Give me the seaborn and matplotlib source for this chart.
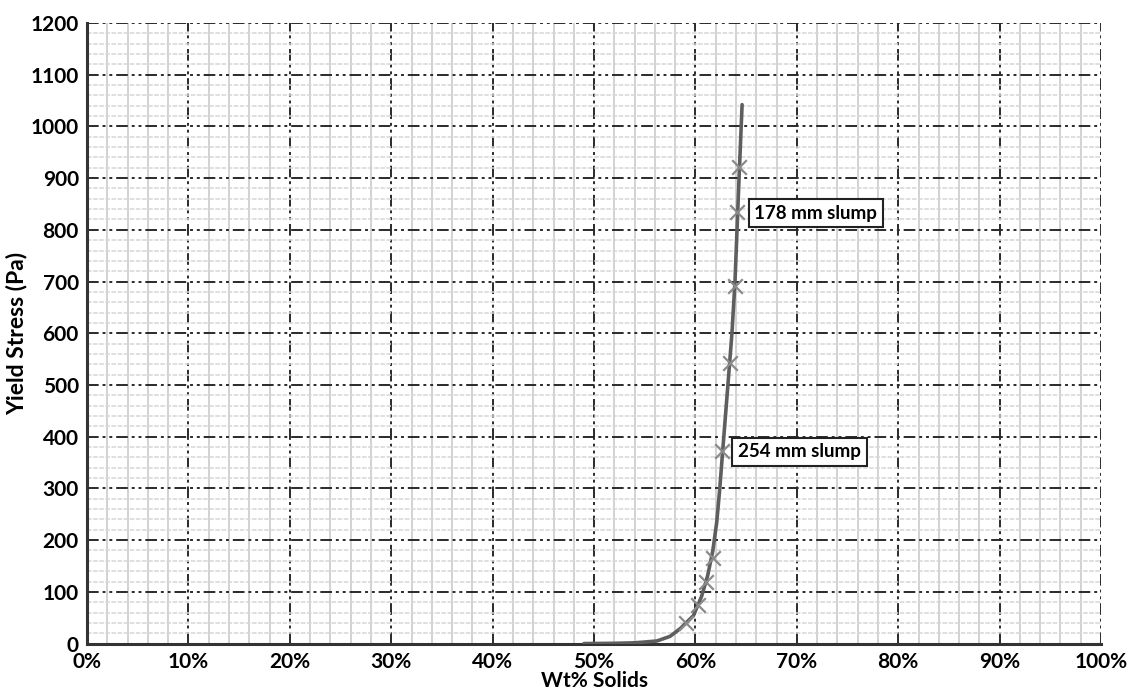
import numpy as np
import pandas as pd
import matplotlib
matplotlib.use("Agg")
import matplotlib.pyplot as plt
import seaborn as sns
from matplotlib.ticker import MultipleLocator, PercentFormatter

# curve (wt% solids, yield stress Pa)
curve_x = [49.0, 52.0, 54.0, 55.0, 56.2, 57.5, 58.5, 59.8, 60.6, 61.2, 61.7,
           62.1, 62.4, 62.7, 63.2, 63.6, 63.9, 64.1, 64.3, 64.6]
curve_y = [0, 0.5, 1.5, 3, 5, 14, 29, 54, 91, 131, 178,
           235, 300, 376, 500, 600, 700, 800, 900, 1042]

# measured points (x markers)
pts_x = [59.1, 60.3, 61.0, 61.7, 62.6, 63.4, 63.9, 64.1, 64.3]
pts_y = [40, 75, 120, 165, 372, 542, 692, 834, 922]

labels = ["178 mm slump", "254 mm slump"]
label_x = [65.8, 64.2]
label_y = [832, 371]

sns.set_style("white")
plt.rcParams['font.family'] = ['Lato', 'DejaVu Sans']
plt.rcParams['text.color'] = 'black'
plt.rcParams['xtick.labelcolor'] = 'black'
plt.rcParams['ytick.labelcolor'] = 'black'
plt.rcParams['axes.labelcolor'] = 'black'

fig = plt.figure(figsize=(11.31, 6.95), dpi=100)
ax = fig.add_axes([0.077, 0.074, 0.8965, 0.893])

df_curve = pd.DataFrame({"x": curve_x, "y": curve_y})
df_pts = pd.DataFrame({"x": pts_x, "y": pts_y})

ax.set_xlim(0, 100)
ax.set_ylim(0, 1200)

# grid
ax.xaxis.set_major_locator(MultipleLocator(10))
ax.xaxis.set_minor_locator(MultipleLocator(2))
ax.yaxis.set_major_locator(MultipleLocator(100))
ax.yaxis.set_minor_locator(MultipleLocator(20))
ax.grid(which="minor", axis="x", color="#cfcfcf", lw=1.3, ls="-", zorder=0)
ax.grid(which="minor", axis="y", color="#d6d6d6", lw=1.1, ls=(0, (3, 1)), zorder=0)
ax.grid(which="major", color="#2a2a2a", lw=1.4, ls=(0, (6, 2, 1.5, 2, 1.5, 2)), zorder=1)
ax.set_axisbelow(True)

sns.lineplot(data=df_curve, x="x", y="y", sort=False, color="#5e5e5e", lw=2.6, ax=ax, zorder=3)
sns.scatterplot(data=df_pts, x="x", y="y", marker="x", s=110, color="#8a8a8a",
                linewidth=1.6, ax=ax, zorder=4)

for txt, lx, ly in zip(labels, label_x, label_y):
    ax.text(lx, ly, txt, ha="left", va="center", fontsize=13.5, fontweight="bold",
            bbox=dict(boxstyle="square,pad=0.3", fc="white", ec="#222222", lw=1.5), zorder=5)

ax.xaxis.set_major_formatter(PercentFormatter(decimals=0))
ax.tick_params(which="major", length=5, width=1.3, color="#333333", direction="out",
               labelsize=15, pad=1)
ax.tick_params(axis="x", which="major", length=4, pad=2)
ax.tick_params(which="minor", length=0)
for lab in ax.get_xticklabels() + ax.get_yticklabels():
    lab.set_fontweight("bold")

for side in ["top", "right"]:
    ax.spines[side].set_visible(False)
for side in ["left", "bottom"]:
    ax.spines[side].set_color("#333333")
    ax.spines[side].set_linewidth(2.2)

ax.set_xlabel("Wt% Solids", fontsize=15, fontweight="bold", labelpad=-1)
ax.set_ylabel("Yield Stress (Pa)", fontsize=16.5, fontweight="bold", labelpad=2)

fig.savefig("out.png", dpi=100)
